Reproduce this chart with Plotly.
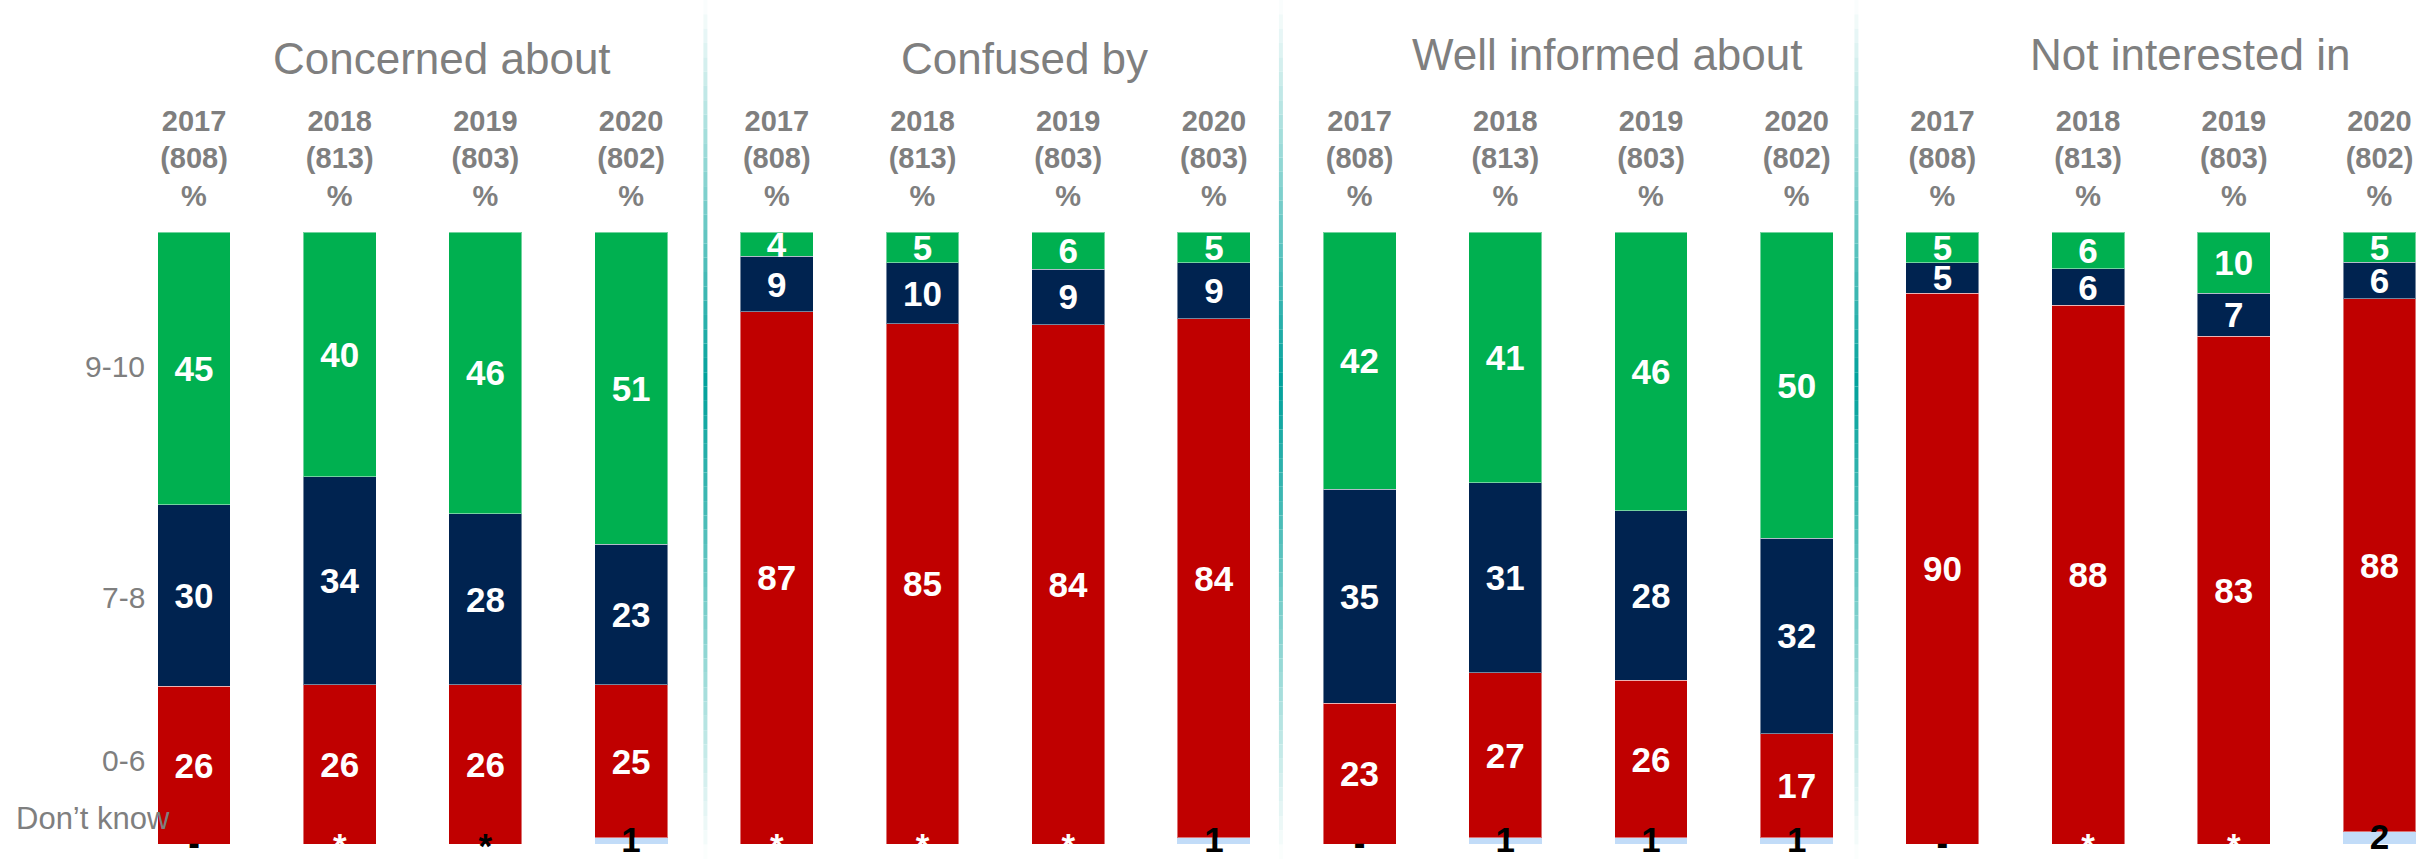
import plotly.graph_objects as go

# ---------------- data ----------------
groups = ["Concerned about", "Confused by", "Well informed about", "Not interested in"]
years = ["2017", "2018", "2019", "2020"]
bases = [
    ["808", "813", "803", "802"],
    ["808", "813", "803", "803"],
    ["808", "813", "803", "802"],
    ["808", "813", "803", "802"],
]
score_9_10 = [45, 40, 46, 51,   4, 5, 6, 5,     42, 41, 46, 50,   5, 6, 10, 5]
score_7_8 = [30, 34, 28, 23,    9, 10, 9, 9,    35, 31, 28, 32,   5, 6, 7, 6]
score_0_6 = [26, 26, 26, 25,    87, 85, 84, 84, 23, 27, 26, 17,   90, 88, 83, 88]
dont_know = ["-", "*", "*", "1", "*", "*", "*", "1", "-", "1", "1", "1", "-", "*", "*", "2"]
band_labels = ["9-10", "7-8", "0-6", "Don\u2019t know"]

# ---------------- styles ----------------
FONT = "Liberation Sans, Arial, sans-serif"
GRAY = "#7f7f7f"
C_GREEN = "#00B050"
C_NAVY = "#002350"
C_RED = "#C00000"
C_DK = "#C2DCF8"
# colour of each "Don't know" label (style only)
dk_colors = ["black", "white", "black", "black", "white", "white", "white", "black",
             "black", "black", "black", "black", "black", "white", "white", "black"]

cats = [f"{g} {y}" for g in groups for y in years]
ticktext = [f"{y}<br>({b})<br>%" for gi, g in enumerate(groups) for y, b in zip(years, bases[gi])]


def dk_num(v):
    try:
        return float(v)
    except ValueError:
        return 0.0


dk_values = [dk_num(v) for v in dont_know]

fig = go.Figure()
edge = dict(color="rgba(255,255,255,0.45)", width=1)

fig.add_trace(go.Bar(x=cats, y=dk_values, marker=dict(color=C_DK, line=dict(width=0)),
                     name="Don't know", hoverinfo="skip"))
for vals, col, nm in [(score_0_6, C_RED, "0-6"), (score_7_8, C_NAVY, "7-8"), (score_9_10, C_GREEN, "9-10")]:
    fig.add_trace(go.Bar(
        x=cats, y=vals, name=nm, marker=dict(color=col, line=edge),
        text=[str(v) for v in vals], textposition="inside", insidetextanchor="middle",
        textangle=0, textfont=dict(family=FONT, size=35, color="white", weight="bold"),
        cliponaxis=False,
    ))

# "Don't know" labels at the bottom of each bar
dk_y = []
for v, n in zip(dont_know, dk_values):
    if v == "*":
        dk_y.append(-0.9)
    elif v == "-":
        dk_y.append(-0.4)
    else:
        dk_y.append(n / 2 - 0.4)
fig.add_trace(go.Scatter(
    x=cats, y=dk_y, mode="text", text=dont_know, textposition="middle center",
    textfont=dict(family=FONT, size=35, color=dk_colors, weight="bold"),
    cliponaxis=False, hoverinfo="skip", showlegend=False,
))

# ---------------- layout ----------------
W, H = 2428, 859
AX_TOP = 212          # pixel row of the (top) category axis
PLOT_BOT = 856        # pixel row of the bottom of the plotting area
Y0_PX, Y100_PX = 844, 232
PX_PER_UNIT = (Y0_PX - Y100_PX) / 100.0
YMAX = 100.05
YMIN = -(PLOT_BOT - Y0_PX) / PX_PER_UNIT
PH = PLOT_BOT - AX_TOP
dom_top = (PLOT_BOT - (Y0_PX - YMAX * PX_PER_UNIT)) / PH

x0, x1 = -1.3315, 15.333

fig.update_layout(
    width=W, height=H, autosize=False,
    margin=dict(l=0, r=0, t=AX_TOP, b=H - PLOT_BOT, pad=0),
    barmode="stack", barnorm="percent", bargap=0.5,
    plot_bgcolor="white", paper_bgcolor="white",
    showlegend=False,
    uniformtext=dict(minsize=35, mode="show"),
    font=dict(family=FONT, color=GRAY),
)
fig.update_xaxes(
    type="category", categoryorder="array", categoryarray=cats,
    range=[x0, x1], side="top", anchor="free", position=1,
    tickmode="array", tickvals=cats, ticktext=ticktext,
    tickfont=dict(family=FONT, size=29, color=GRAY, weight="bold"),
    showgrid=False, zeroline=False, showline=False, ticks="",
)
fig.update_yaxes(range=[YMIN, YMAX], domain=[0, dom_top], visible=False,
                 showgrid=False, zeroline=False)


def py_to_paper(py):
    return (PLOT_BOT - py) / PH


# group titles
title_py = [58, 58, 55, 55]
for gi, g in enumerate(groups):
    fig.add_annotation(x=gi * 4 + 1.5 + 0.2, xref="x", y=py_to_paper(title_py[gi]), yref="paper",
                       text=g, showarrow=False, xanchor="center", yanchor="middle",
                       font=dict(family=FONT, size=44, color=GRAY))

# left band labels
band_py = [366, 597, 760]
for lab, p in zip(band_labels[:3], band_py):
    fig.add_annotation(x=147 / W, xref="paper", y=py_to_paper(p), yref="paper", text=lab,
                       showarrow=False, xanchor="right", yanchor="middle",
                       font=dict(family=FONT, size=30, color=GRAY))
fig.add_annotation(x=14 / W, xref="paper", y=py_to_paper(818), yref="paper", text=band_labels[3],
                   showarrow=False, xanchor="left", yanchor="middle",
                   font=dict(family=FONT, size=31, color=GRAY))

# gradient dividers between groups
PEAK = 383
teal = (0, 161, 155)
N = 60
divider_x = [3.51, 7.46, 11.41]
for xd in divider_x:
    for k in range(N):
        ya = k * H / N
        yb = (k + 1) * H / N
        mid = (ya + yb) / 2
        span = PEAK if mid < PEAK else (H - PEAK)
        t = max(0.0, 1 - abs(mid - PEAK) / span)
        col = tuple(int(round(255 * (1 - t) + c * t)) for c in teal)
        fig.add_shape(type="line", xref="x", yref="paper", x0=xd, x1=xd,
                      y0=py_to_paper(ya), y1=py_to_paper(yb),
                      line=dict(color=f"rgb{col}", width=4), layer="below")

fig.write_html("out.html", config={"displayModeBar": False},
               post_script="document.body.style.margin='0px';")
